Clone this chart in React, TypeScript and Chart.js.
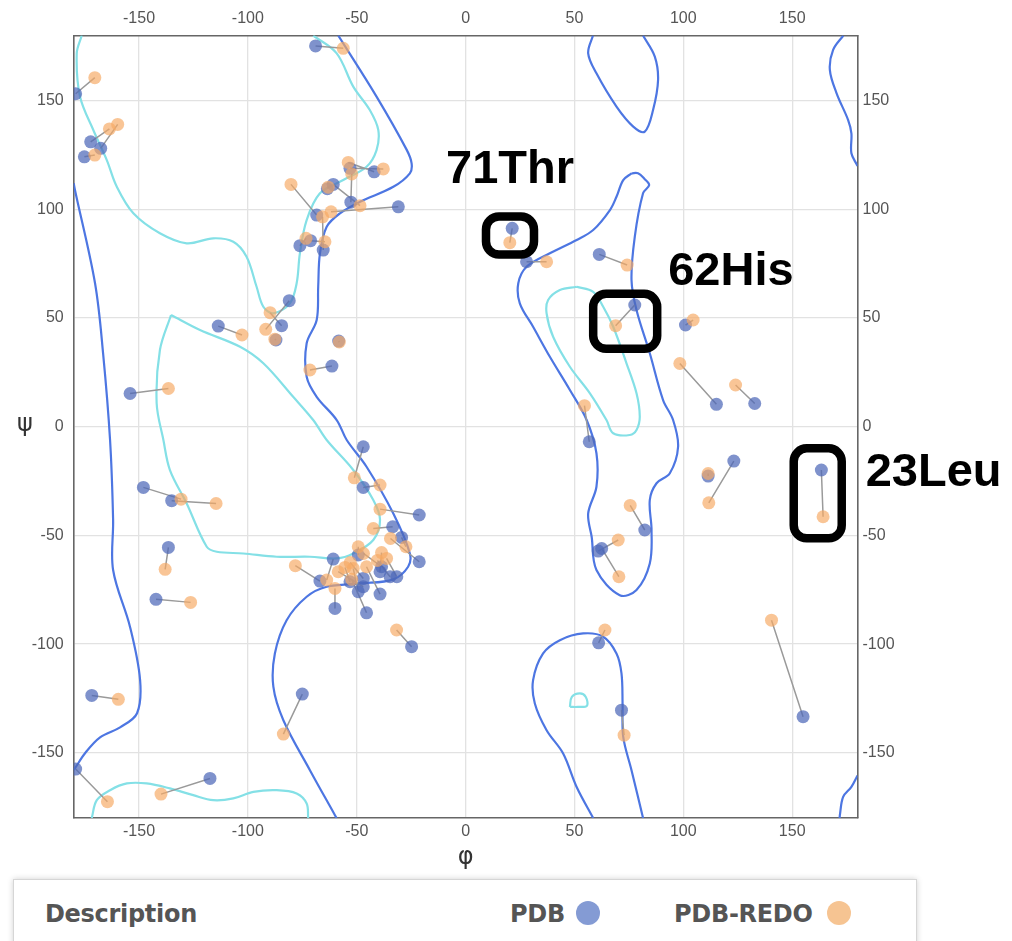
import React, { useEffect, useRef } from 'react';
import { Chart, registerables } from 'chart.js';
Chart.register(...registerables);

const axisTicks = [-150, -100, -50, 0, 50, 100, 150];

// paired residues: PDB (blue) and PDB-REDO (orange)
const pdbPhi = [-42.0, -53.1, -52.7, -60.8, -30.9, -68.4, -76.1, -71.2, -65.4, -63.5,
  -47.0, -47.0, -21.3, -33.5, -29.4, -21.3, -49.3, -38.6, -39.3, -31.6,
  -60.8, -60.0, -66.9, -53.1, -47.0, -49.3, -39.3, -45.5, -34.7, -47.0,
  -68.9, -179.1, -172.2, -167.6, -175.1, -81.0, -84.5, -87.1, -58.3, -113.6,
  -61.4, -154.1, 21.4, 28.0, 61.4, 77.7, 101.0, 115.2, 132.8, 56.8,
  123.2, 111.4, 163.4, 82.3, 60.9, 62.5, 61.1, 71.6, 155.0, -148.0,
  -135.0, -136.5, -142.2, -171.7, -75.0, -179.1, -117.4, -24.8];
const pdbPsi = [117.3, 118.9, 103.3, 111.5, 101.2, 97.4, 83.3, 85.6, 81.3, 109.5,
  -9.2, -27.9, -40.6, -46.0, -50.9, -62.1, -59.0, -64.4, -66.7, -69.0,
  -60.9, -83.6, -71.0, -71.3, -73.6, -75.9, -77.0, -85.6, -69.0, -69.8,
  175.2, 153.2, 131.1, 128.1, 124.2, 58.0, 46.5, 39.9, 39.4, 46.3,
  27.9, 15.3, 91.3, 75.9, 79.3, 56.0, 46.8, 10.3, 10.7, -6.9,
  -15.8, -22.7, -19.9, -47.5, -57.2, -56.0, -99.4, -130.4, -133.4, -27.9,
  -34.0, -55.5, -79.4, -123.6, -123.0, -157.5, -161.8, -101.2];
const redoPhi = [-53.9, -37.8, -52.3, -48.5, -61.8, -80.2, -73.3, -64.6, -65.7, -63.1,
  -51.1, -39.3, -39.3, -42.4, -27.4, -34.5, -49.3, -46.9, -38.6, -36.3,
  -63.8, -60.0, -78.2, -55.4, -58.5, -51.6, -45.5, -52.3, -40.5, -53.0,
  -56.2, -170.3, -163.6, -159.8, -170.3, -91.8, -89.8, -87.6, -58.0, -102.7,
  -71.5, -136.5, 20.3, 37.2, 74.2, 68.9, 104.5, 98.4, 124.0, 54.6,
  111.7, 111.4, 164.2, 75.6, 70.1, 70.4, 64.0, 72.8, 140.5, -130.7,
  -114.6, -138.0, -126.3, -159.5, -83.7, -164.5, -139.9, -31.7];
const redoPsi = [121.6, 118.6, 116.3, 101.7, 98.9, 111.5, 86.7, 85.1, 96.6, 110.2,
  -23.5, -26.8, -37.9, -46.8, -55.2, -51.4, -55.2, -58.3, -57.9, -60.6,
  -70.5, -74.4, -63.9, -64.7, -66.7, -65.2, -64.4, -70.2, -61.5, -62.5,
  174.1, 160.6, 137.0, 139.1, 125.0, 44.8, 52.5, 40.3, 39.0, 42.2,
  26.1, 17.6, 84.7, 75.9, 74.4, 46.5, 49.1, 29.1, 19.2, 9.7,
  -35.0, -21.5, -41.4, -36.2, -52.1, -69.0, -93.5, -141.9, -89.0, -33.3,
  -35.3, -65.6, -80.8, -125.4, -141.4, -172.5, -169.0, -93.5];

// allowed-region contour (blue), flat [phi, psi, phi, psi, ...]
const allowedLeft = [-180, 112, -179.4, 108.8, -170.2, 66.0, -166.5, 33.8, -163.3, -6.1, -161.9, -42.9,
  -161.9, -65.9, -154.1, -92.2, -149.5, -116.6, -150.9, -131.8, -158.7, -138.3, -167.9, -142.9,
  -174.8, -150.2, -179.4, -157.1, -180, -157.8];
const allowedMain = [-58.5, 180, -40.9, 151.9, -27.1, 127.5, -24.8, 121.2, -25.6, 116.6, -33.2, 110.4,
  -48.5, 103.5, -57.7, 98.2, -63.8, 92.0, -66.9, 79.8, -67.7, 64.4, -68.4, 49.1, -73.0, 38.4,
  -73.0, 23.0, -68.4, 13.8, -59.2, 3.1, -54.6, -6.1, -45.5, -18.4, -33.2, -39.9, -25.6, -58.3,
  -26.4, -64.4, -33.2, -70.2, -48.5, -72.1, -63.8, -73.6, -73.0, -78.2, -82.2, -89.0, -87.6, -104.3,
  -88.3, -119.6, -83.7, -135.0, -71.5, -158.0, -60.0, -178.7, -59.3, -180];
const allowedLeftHanded = [76.2, 116.6, 72.4, 113.5, 69.3, 105.8, 66.3, 99.7, 58.6, 90.5, 51.0, 85.9,
  38.7, 79.8, 28.0, 73.6, 24.2, 66.0, 24.9, 56.8, 31.0, 46.0, 38.7, 32.2, 47.9, 16.9, 55.6, 3.1,
  60.1, -12.2, 60.1, -27.6, 56.3, -39.9, 57.9, -50.6, 60.1, -65.9, 70.8, -77.5, 78.5, -75.1,
  84.6, -62.9, 85.4, -47.5, 84.6, -33.7, 87.7, -26.0, 93.8, -21.4, 97.6, -9.2, 95.3, 3.1,
  90.7, 12.3, 84.6, 33.8, 78.5, 53.7, 76.2, 67.5, 77.7, 87.4, 81.5, 107.4, 84.3, 111.2,
  82.3, 113.9, 79.2, 116.6, 76.2, 116.6];
const allowedTopIsland = [58.5, 180, 56.3, 171.8, 60.1, 162.6, 69.3, 147.3, 77.0, 138.1, 82.3, 135.8,
  86.1, 145.7, 88.4, 159.5, 86.9, 170.3, 81.5, 180];
const allowedBottomIsland = [58.6, -180, 51.0, -165.7, 44.8, -150.3, 37.2, -139.6, 31.8, -127.3,
  31.0, -116.6, 35.6, -104.3, 43.3, -98.2, 54.0, -95.1, 63.2, -96.6, 69.3, -104.3, 71.6, -113.5,
  72.1, -127.3, 72.4, -142.7, 76.2, -158.0, 81.5, -180];
const allowedTopRight = [173.5, 180, 168.8, 173.4, 167.3, 164.2, 170.4, 153.4, 175.7, 141.1,
  177.2, 135.0, 177.2, 125.8, 180, 120];
const allowedBottomRight = [180, -160.5, 177.2, -165.7, 173.4, -170.3, 171.9, -178.7, 171.8, -180];

// favoured-region contour (cyan)
const favouredBeta = [-176.3, 180, -178.6, 171.8, -177.1, 151.9, -171.0, 136.5, -164.8, 122.7,
  -160.2, 110.4, -152.6, 98.2, -140.4, 89.0, -128.1, 84.4, -115.9, 86.7, -106.7, 85.1,
  -100.6, 78.2, -96.0, 64.4, -92.9, 55.2, -88.3, 52.2, -80.7, 56.8, -77.6, 66.0, -76.1, 79.8,
  -73.0, 95.1, -66.9, 107.4, -56.2, 113.5, -45.5, 119.6, -40.9, 127.3, -40.1, 136.5, -44.0, 145.7,
  -51.6, 156.5, -59.2, 171.8, -70.0, 180];
const favouredBottom = [-171.7, -180, -169.4, -171.8, -163.3, -167.2, -155.6, -164.1, -146.5, -164.1,
  -135.8, -166.4, -125.1, -169.5, -115.9, -171.8, -106.7, -171.0, -97.5, -168.0, -86.8, -167.2,
  -77.6, -168.7, -73.0, -173.3, -72.3, -180];
const favouredAlpha = [-135.3, 51.4, -122.0, 44.5, -103.6, 36.8, -92.9, 29.2, -79.2, 13.8, -70.0, 3.1,
  -63.8, -6.1, -51.6, -19.9, -42.4, -33.7, -39.3, -42.9, -42.4, -52.1, -51.6, -58.3, -59.2, -60.6,
  -71.5, -59.8, -86.8, -59.8, -102.1, -58.3, -114.3, -57.5, -118.9, -55.2, -128.1, -35.3,
  -135.8, -19.9, -138.8, -6.1, -141.9, 10.8, -140.4, 35.3, -135.3, 51.4];
const favouredLeftHanded = [51.0, 64.4, 43.3, 62.9, 37.9, 58.3, 37.2, 52.2, 40.2, 41.4, 47.9, 27.6,
  57.1, 15.4, 64.7, 3.1, 67.8, -3.0, 75.4, -3.8, 78.5, -1.5, 80.0, 4.6, 78.5, 15.4, 73.9, 29.2,
  67.8, 46.0, 63.2, 55.2, 58.6, 62.1, 51.0, 64.4];
const favouredSmall = [47.9, -128.9, 48.8, -124.3, 52.5, -122.7, 55.2, -124.3, 55.7, -128.4,
  51.6, -128.9, 47.9, -128.9];

const allowedPaths = [allowedLeft, allowedMain, allowedLeftHanded, allowedTopIsland,
  allowedBottomIsland, allowedTopRight, allowedBottomRight];
const favouredPaths = [favouredBeta, favouredBottom, favouredAlpha, favouredLeftHanded, favouredSmall];

// highlighted residues (index into the pair arrays)
const highlights = [
  { label: '71Thr', pair: 42, w: 48, h: 38, ox: -1, oy: 0, align: 'center', tx: 0, ty: -52 },
  { label: '62His', pair: 45, w: 64, h: 55, ox: 0, oy: 6, align: 'left', tx: 43, ty: -36 },
  { label: '23Leu', pair: 52, w: 48, h: 90, ox: -4.5, oy: 0, align: 'left', tx: 48, ty: -7 },
];

function pathsToData(paths: number[][]) {
  const out: any[] = [];
  paths.forEach((p) => {
    for (let i = 0; i < p.length; i += 2) out.push({ x: p[i], y: p[i + 1] });
    out.push({ x: p[p.length - 2], y: null });
  });
  return out;
}

function pairsToData() {
  const out: any[] = [];
  pdbPhi.forEach((_, i) => {
    out.push({ x: pdbPhi[i], y: pdbPsi[i] });
    out.push({ x: redoPhi[i], y: redoPsi[i] });
    out.push({ x: redoPhi[i], y: null });
  });
  return out;
}

const W = 1012;
const H = 870;

const overlayPlugin = {
  id: 'overlay',
  afterDraw(chart: any) {
    const { ctx, chartArea, scales } = chart;
    const sx = scales.x;
    const sy = scales.y;
    ctx.save();
    ctx.fillStyle = '#333';
    ctx.font = '24px "DejaVu Sans"';
    ctx.textAlign = 'center';
    ctx.textBaseline = 'middle';
    ctx.fillText('ψ', 25, (chartArea.top + chartArea.bottom) / 2 - 2);
    ctx.fillText('φ', (chartArea.left + chartArea.right) / 2, chartArea.bottom + 40);

    highlights.forEach((h) => {
      const x1 = sx.getPixelForValue(pdbPhi[h.pair]);
      const y1 = sy.getPixelForValue(pdbPsi[h.pair]);
      const x2 = sx.getPixelForValue(redoPhi[h.pair]);
      const y2 = sy.getPixelForValue(redoPsi[h.pair]);
      const cx = (x1 + x2) / 2 + h.ox;
      const cy = (y1 + y2) / 2 + h.oy;
      ctx.beginPath();
      ctx.lineWidth = 8.5;
      ctx.strokeStyle = '#000';
      ctx.roundRect(cx - h.w / 2, cy - h.h / 2, h.w, h.h, 13);
      ctx.stroke();
      ctx.fillStyle = '#000';
      ctx.font = 'bold 47px "Liberation Sans", Arial, sans-serif';
      ctx.textBaseline = 'alphabetic';
      ctx.textAlign = h.align === 'center' ? 'center' : 'left';
      ctx.fillText(h.label, cx + h.tx, cy + h.ty);
    });
    ctx.restore();
  },
};

function axisOpts(position: string, size: number, showGrid: boolean, padding: number) {
  const horizontal = position === 'top' || position === 'bottom';
  return {
    type: 'linear',
    position,
    min: -180,
    max: 180,
    afterBuildTicks: (s: any) => {
      s.ticks = axisTicks.map((v) => ({ value: v }));
    },
    afterFit: (s: any) => {
      if (horizontal) s.height = size;
      else s.width = size;
    },
    grid: { display: showGrid, color: '#e2e2e2', lineWidth: 1.3, drawTicks: false },
    border: { display: true, color: '#666', width: 1.6 },
    ticks: {
      padding,
      color: '#555',
      maxRotation: 0,
      autoSkip: false,
      font: { family: '"Liberation Sans", Arial, sans-serif', size: 16 },
    },
  };
}

export default function App() {
  const ref = useRef<HTMLCanvasElement | null>(null);

  useEffect(() => {
    if (!ref.current) return;
    const chart = new Chart(ref.current, {
      type: 'scatter',
      data: {
        datasets: [
          {
            label: 'PDB-REDO',
            data: redoPhi.map((v, i) => ({ x: v, y: redoPsi[i] })),
            backgroundColor: 'rgba(246, 170, 100, 0.68)',
            borderWidth: 0,
            pointRadius: 6.5,
            order: 0,
          },
          {
            label: 'PDB',
            data: pdbPhi.map((v, i) => ({ x: v, y: pdbPsi[i] })),
            backgroundColor: 'rgba(78, 104, 184, 0.72)',
            borderWidth: 0,
            pointRadius: 6.5,
            order: 1,
          },
          {
            label: 'shift',
            data: pairsToData(),
            showLine: true,
            borderColor: '#9a9a9a',
            borderWidth: 1.5,
            pointRadius: 0,
            spanGaps: false,
            order: 2,
          },
          {
            label: 'favoured',
            data: pathsToData(favouredPaths),
            showLine: true,
            borderColor: '#84e0e6',
            borderWidth: 2.2,
            pointRadius: 0,
            tension: 0.35,
            spanGaps: false,
            order: 3,
          },
          {
            label: 'allowed',
            data: pathsToData(allowedPaths),
            showLine: true,
            borderColor: '#4d76e2',
            borderWidth: 2.2,
            pointRadius: 0,
            tension: 0.35,
            spanGaps: false,
            order: 4,
          },
        ] as any,
      },
      options: {
        responsive: false,
        animation: false,
        layout: { padding: 0 },
        plugins: { legend: { display: false }, tooltip: { enabled: false } },
        scales: {
          x: axisOpts('bottom', H - 818, true, 4),
          x2: axisOpts('top', 35.5, false, 7),
          y: axisOpts('left', 73.7, true, 10),
          y2: axisOpts('right', W - 857.5, false, 5),
        } as any,
      },
      plugins: [overlayPlugin],
    });
    return () => chart.destroy();
  }, []);

  const legendText: React.CSSProperties = {
    position: 'absolute',
    top: 20,
    fontFamily: '"DejaVu Sans", Verdana, sans-serif',
    fontWeight: 'bold',
    fontSize: 24,
    lineHeight: 'normal',
    color: '#555',
    letterSpacing: -0.3,
    whiteSpace: 'nowrap',
  };
  const dot = (c: string, left: number): React.CSSProperties => ({
    position: 'absolute',
    left,
    top: 21,
    width: 24,
    height: 24,
    borderRadius: '50%',
    background: c,
  });

  return (
    <div style={{ position: 'absolute', left: 0, top: 0, width: W, height: 941, overflow: 'hidden', background: '#fff' }}>
      <canvas ref={ref} width={W} height={H} style={{ position: 'absolute', left: 0, top: 0, width: W, height: H }} />
      <div
        style={{
          position: 'absolute',
          left: 13,
          top: 879,
          width: 902,
          height: 100,
          border: '1px solid #d6d6d6',
          boxShadow: '0 0 6px rgba(0,0,0,0.18)',
          background: '#fff',
        }}
      >
        <span style={{ ...legendText, left: 31 }}>Description</span>
        <span style={{ ...legendText, left: 496 }}>PDB</span>
        <span style={dot('rgba(132, 155, 212, 1)', 562)} />
        <span style={{ ...legendText, left: 660 }}>PDB-REDO</span>
        <span style={dot('rgba(246, 196, 146, 1)', 813)} />
      </div>
    </div>
  );
}
